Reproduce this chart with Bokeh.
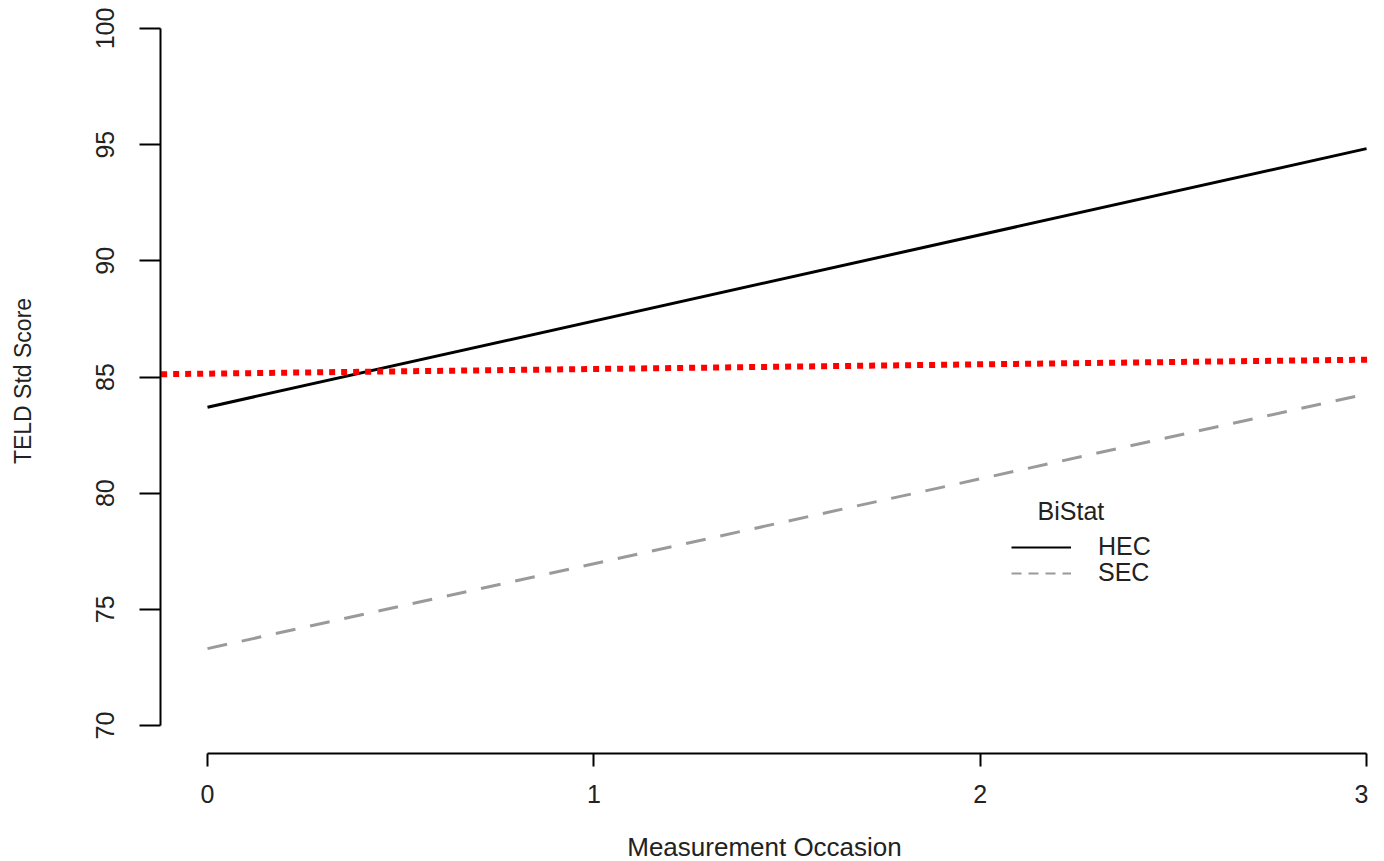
from bokeh.plotting import figure
from bokeh.models import Range1d, Legend, LegendItem, Label, FixedTicker
from bokeh.embed import file_html
from bokeh.resources import INLINE

# ---- data ----
occasion = [0, 3]
hec_score = [83.70, 94.83]
sec_score = [73.31, 84.27]
ref_x = [-0.12, 3.12]
ref_score = [85.12, 85.77]
x_ticks = [0, 1, 2, 3]
y_ticks = [70, 75, 80, 85, 90, 95, 100]
groups = ["HEC", "SEC"]
legend_title = "BiStat"

FONT = "Liberation Sans"
PX_PER_X = 386.33

p = figure(width=1368, height=845, output_backend="svg", toolbar_location=None,
           x_range=Range1d(-0.1217, 3.005), y_range=Range1d(68.795, 100.861),
           min_border_left=160, min_border_right=0, min_border_top=8, min_border_bottom=92,
           frame_width=1208, frame_height=745)
p.outline_line_color = None
p.grid.visible = False
p.background_fill_color = "white"

# axes
xa = p.xaxis[0]
xa.ticker = FixedTicker(ticks=x_ticks)
xa.bounds = (0, 3)
xa.axis_label = "Measurement Occasion"
xa.axis_line_width = 2
xa.major_tick_line_width = 2
xa.major_tick_out = 13
xa.major_tick_in = 0
xa.minor_tick_line_color = None
xa.major_label_text_font = FONT
xa.major_label_text_font_size = "25px"
xa.major_label_text_color = "#222222"
xa.major_label_standoff = 18
xa.axis_label_text_font = FONT
xa.axis_label_text_font_style = "normal"
xa.axis_label_text_font_size = "26px"
xa.axis_label_text_color = "#222222"
xa.axis_label_standoff = 26

ya = p.yaxis[0]
ya.ticker = FixedTicker(ticks=y_ticks)
ya.bounds = (70, 100)
ya.axis_label = "TELD Std Score"
ya.axis_line_width = 2
ya.major_tick_line_width = 2
ya.major_tick_out = 21
ya.major_tick_in = 0
ya.minor_tick_line_color = None
ya.major_label_orientation = "vertical"
ya.major_label_text_font = FONT
ya.major_label_text_font_size = "25px"
ya.major_label_text_color = "#222222"
ya.major_label_standoff = 25
ya.axis_label_text_font = FONT
ya.axis_label_text_font_style = "normal"
ya.axis_label_text_font_size = "23px"
ya.axis_label_text_color = "#222222"
ya.axis_label_standoff = 58

# lines
p.line(occasion, hec_score, line_color="black", line_width=3)
p.line(occasion, sec_score, line_color="#9a9a9a", line_width=3, line_dash="20 15")
p.line(ref_x, ref_score, line_color="red", line_width=6, line_dash="6 6")

# legend proxies (thin lines, no visible data)
r_hec = p.line([float("nan")], [float("nan")], line_color="black", line_width=2)
r_sec = p.line([float("nan")], [float("nan")], line_color="#9a9a9a", line_width=2, line_dash="10 7")

common = dict(orientation="vertical", glyph_width=60, glyph_height=20, label_standoff=27,
              label_height=20, spacing=0, padding=0, margin=0,
              border_line_color=None, background_fill_alpha=0,
              label_text_font=FONT, label_text_font_size="25px",
              label_text_color="#222222")
leg_hec = Legend(items=[LegendItem(label=groups[0], renderers=[r_hec])],
                 location=(851, 192), **common)
leg_sec = Legend(items=[LegendItem(label=groups[1], renderers=[r_sec])],
                 location=(851, 166), **common)
p.add_layout(leg_hec, "center")
p.add_layout(leg_sec, "center")

title_lbl = Label(x=(1037 - 207) / PX_PER_X, y=100 - (510 - 28) / 23.233, text=legend_title,
                  text_font=FONT, text_font_size="25px", text_color="#222222",
                  text_baseline="middle", text_align="left")
p.add_layout(title_lbl)

open("out.html", "w").write(file_html(p, INLINE))
